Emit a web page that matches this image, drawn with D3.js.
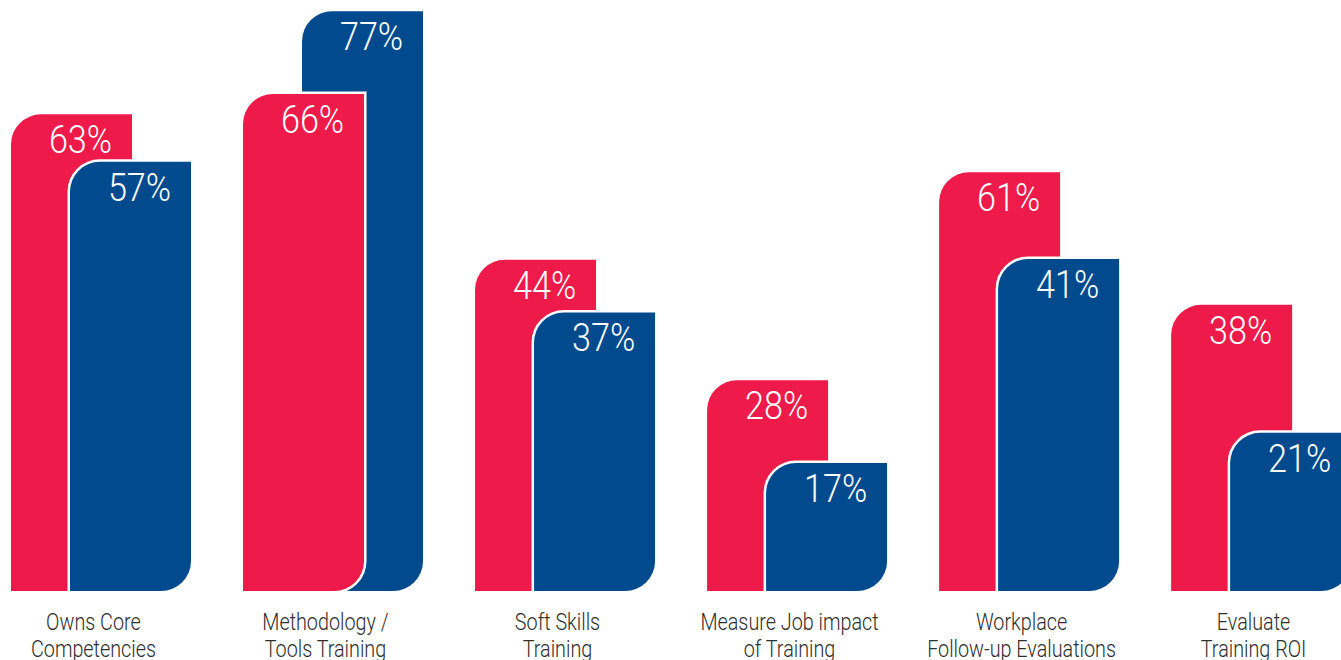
<!DOCTYPE html>
<html>
<head>
<meta charset="utf-8">
<script src="https://cdn.jsdelivr.net/npm/d3@7"></script>
<style>
  html, body { margin: 0; padding: 0; background: #fff; }
  svg { display: block; }
</style>
</head>
<body>
<svg id="chart" width="1341" height="660"></svg>
<script>
// ---- data ----
const categories = [
  ["Owns Core", "Competencies"],
  ["Methodology /", "Tools Training"],
  ["Soft Skills", "Training"],
  ["Measure Job impact", "of Training"],
  ["Workplace", "Follow-up Evaluations"],
  ["Evaluate", "Training ROI"]
];
// bar heights as drawn in the picture (percent)
const seriesRed  = [63.3, 66, 44, 28, 55.6, 38];
const seriesBlue = [57, 77, 37, 17, 44.1, 21];
// printed value labels
const labelsRed  = ["63%", "66%", "44%", "28%", "61%", "38%"];
const labelsBlue = ["57%", "77%", "37%", "17%", "41%", "21%"];

// ---- layout ----
const baseY = 591;
const barW = 121, shift = 59, radius = 30;
const colors = ["#EE1A4A", "#014A8E"];
const font = "Roboto, 'Liberation Sans', sans-serif";
const pctScale = 0.9, catScale = 0.86;

const svg = d3.select("#chart");

const x = d3.scaleBand()
  .domain(d3.range(categories.length))
  .range([11, 11 + 5 * 232.2 + barW + shift])
  .paddingInner(51.2 / 232.2)
  .paddingOuter(0);

const y = d3.scaleLinear().domain([0, 100]).range([baseY, baseY - 753]);

function barPath(x0, y0, w, y1, r) {
  const p = d3.path();
  p.moveTo(x0, y1);
  p.lineTo(x0, y0 + r);
  p.arcTo(x0, y0, x0 + r, y0, r);
  p.lineTo(x0 + w, y0);
  p.lineTo(x0 + w, y1 - r);
  p.arcTo(x0 + w, y1, x0 + w - r, y1, r);
  p.lineTo(x0, y1);
  p.closePath();
  return p.toString();
}

function condensedText(g, tx, ty, s, str) {
  return g.append("text")
    .attr("transform", `translate(${tx},${ty}) scale(${s},1)`)
    .attr("text-anchor", "middle")
    .style("font-family", font)
    .text(str);
}

const groups = svg.selectAll("g.grp")
  .data(categories.map((c, i) => ({
    i, cat: c,
    bars: [
      { s: 0, v: seriesRed[i],  label: labelsRed[i] },
      { s: 1, v: seriesBlue[i], label: labelsBlue[i] }
    ]
  })))
  .join("g")
  .attr("class", "grp");

groups.each(function(d) {
  const g = d3.select(this);
  // taller bar behind, shorter in front
  const ordered = d.bars.slice().sort((a, b) => b.v - a.v);
  ordered.forEach((b, k) => {
    const bx = x(d.i) + b.s * shift;
    const by = y(b.v);
    g.append("path")
      .attr("d", barPath(bx, by, barW, y(0), radius))
      .attr("fill", colors[b.s])
      .attr("stroke", k === 1 ? "#fff" : "none")
      .attr("stroke-width", 5)
      .style("paint-order", "stroke");
  });
  ordered.forEach(b => {
    const bx = x(d.i) + b.s * shift;
    condensedText(g, bx + barW / 2 + 9, y(b.v) + 39, pctScale, b.label)
      .attr("fill", "#fff")
      .style("font-size", "38px")
      .style("font-weight", 300);
  });
  const cx = x(d.i) + x.bandwidth() / 2 - 8;
  d.cat.forEach((line, li) => {
    condensedText(g, cx, 630 + li * 27, catScale, line)
      .attr("fill", "#2e2e2e")
      .style("font-size", "23px")
      .style("font-weight", 300);
  });
});
</script>
</body>
</html>
